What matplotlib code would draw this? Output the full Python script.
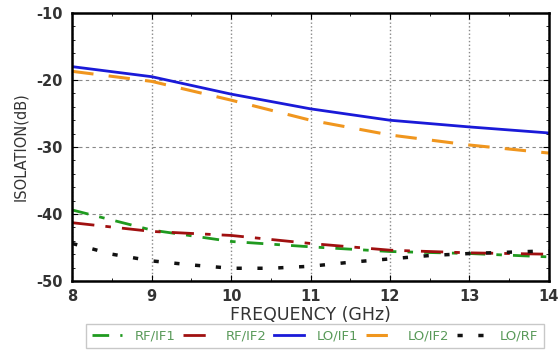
import numpy as np
import matplotlib.pyplot as plt
from matplotlib.ticker import MultipleLocator

plt.rcParams['font.family'] = ['DejaVu Sans']
plt.rcParams['axes.unicode_minus'] = False

freq = [8, 9, 10, 11, 12, 13, 14]
rf_if1 = [-39.4, -42.4, -44.1, -44.9, -45.6, -45.9, -46.4]
rf_if2 = [-41.3, -42.6, -43.2, -44.4, -45.4, -45.8, -46.0]
lo_if1 = [-18.0, -19.5, -22.1, -24.3, -26.0, -27.0, -27.9]
lo_if2 = [-18.7, -20.2, -23.0, -26.0, -28.2, -29.7, -30.9]
lorf_freq = [8, 8.5, 9, 9.5, 10, 10.5, 11, 11.5, 12, 12.5, 13, 13.5, 14]
lo_rf = [-44.4, -46.0, -47.0, -47.6, -48.1, -48.1, -47.8, -47.2, -46.7, -46.2, -45.9, -45.7, -45.5]

fig = plt.figure(figsize=(5.6, 3.53), dpi=100)
ax = fig.add_axes([0.129, 0.204, 0.851, 0.759])

ax.plot(freq, rf_if1, color='#1f9a1f', lw=2, dashes=(6, 4, 2, 4), label='RF/IF1')
ax.plot(freq, rf_if2, color='#a01010', lw=2, dashes=(8, 4, 2, 4), label='RF/IF2')
ax.plot(freq, lo_if1, color='#1a1ad8', lw=2, label='LO/IF1')
ax.plot(freq, lo_if2, color='#f0961e', lw=2.2, dashes=(7, 5), label='LO/IF2')
ax.plot(lorf_freq, lo_rf, color='#111111', lw=2.5, dashes=(1.5, 4.5), label='LO/RF')

ax.set_xlim(8, 14)
ax.set_ylim(-50, -10)
ax.xaxis.set_major_locator(MultipleLocator(1))
ax.yaxis.set_major_locator(MultipleLocator(10))
ax.xaxis.set_minor_locator(MultipleLocator(0.5))
ax.yaxis.set_minor_locator(MultipleLocator(2))
ax.tick_params(which='both', direction='in', top=True, right=True, labelsize=10.5)
ax.tick_params(which='major', length=4)
ax.tick_params(axis='x', which='major', pad=6)
ax.tick_params(axis='y', which='major', pad=7)
ax.tick_params(which='minor', length=2)
for lab in ax.get_xticklabels() + ax.get_yticklabels():
    lab.set_fontweight('bold')
    lab.set_color('#333333')
ax.grid(axis='x', color='#888888', ls=':', lw=1)
ax.grid(axis='y', color='#888888', ls=(0, (3, 3)), lw=0.8)
for s in ax.spines.values():
    s.set_linewidth(1.8)

ax.set_xlabel('FREQUENCY (GHz)', fontsize=12.5, labelpad=1, color='#333333')
ax.set_ylabel('ISOLATION(dB)', fontsize=10.5, labelpad=6, color='#333333')

leg = fig.legend(loc='center', bbox_to_anchor=(0.5625, 0.048), ncol=5, fontsize=9.5,
                 handlelength=2.3, handletextpad=0.9, columnspacing=0.6, fancybox=False,
                 edgecolor='#bbbbbb', borderpad=0.45)
for t in leg.get_texts():
    t.set_color('#5a9a5a')

plt.savefig('out.png')
